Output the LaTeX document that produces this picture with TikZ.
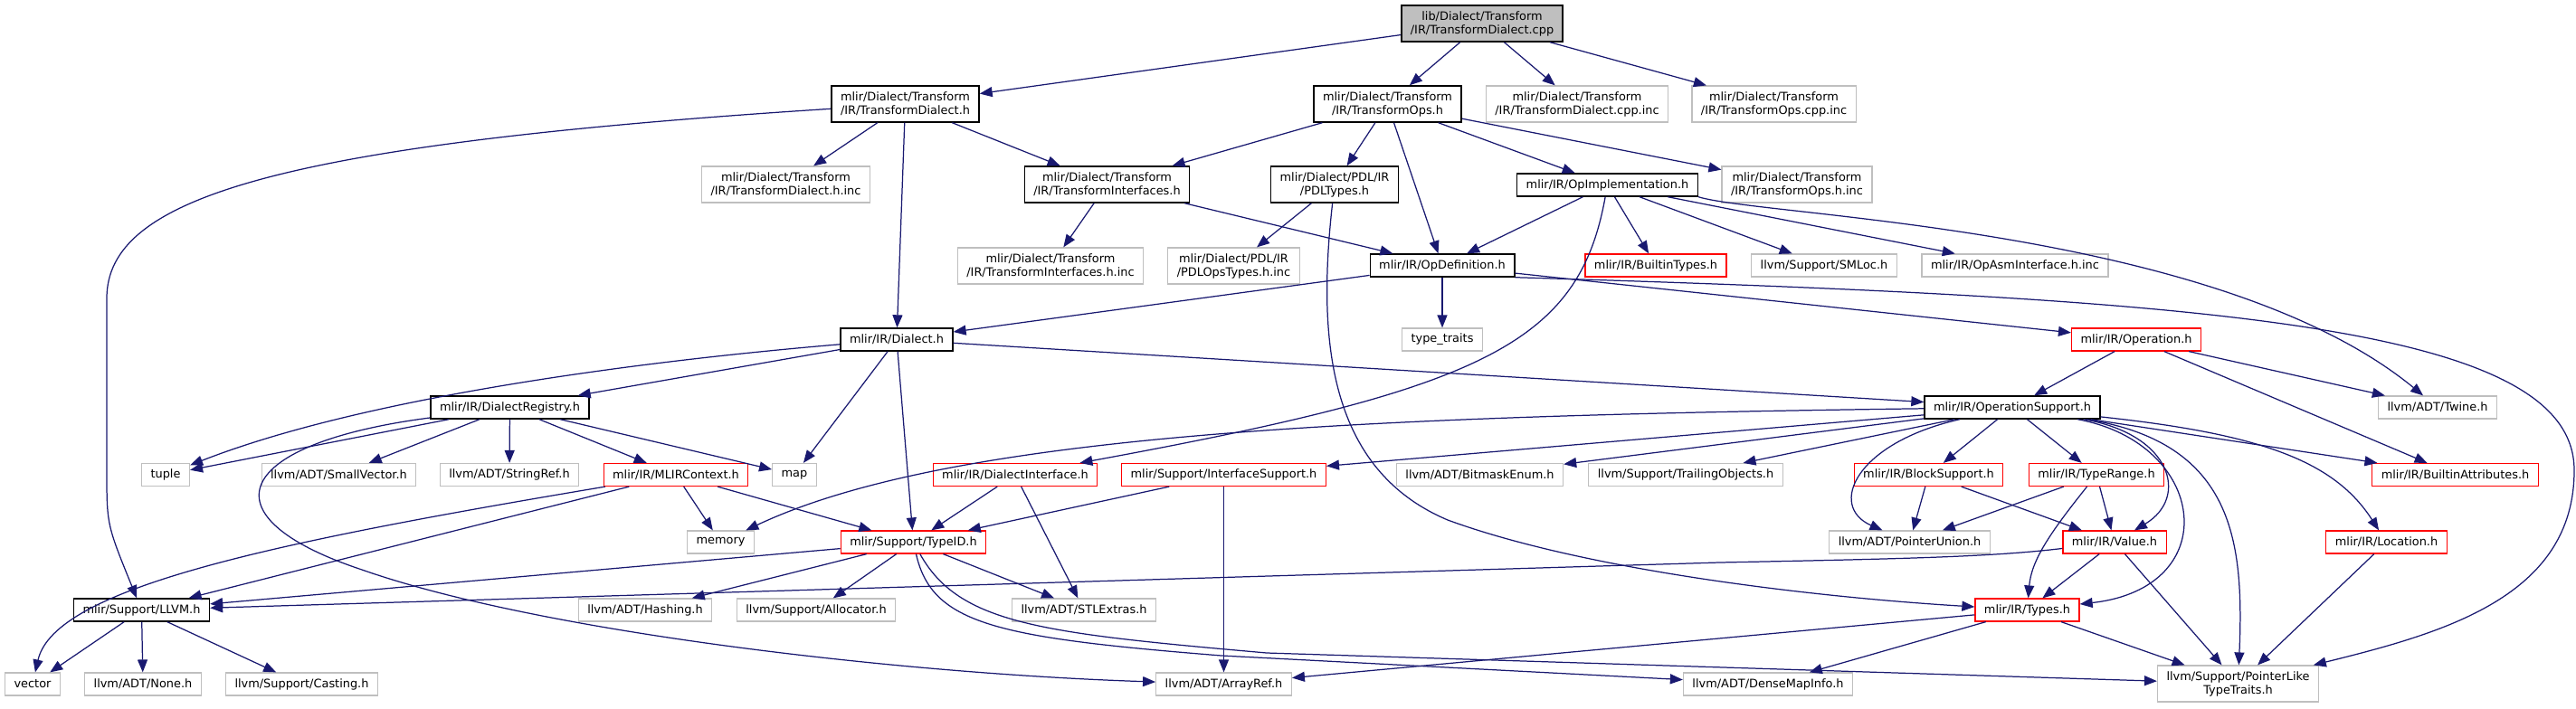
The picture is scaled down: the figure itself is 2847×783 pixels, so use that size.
\documentclass[tikz,border=0pt]{standalone}
\usepackage{fontspec}
\setmainfont{DejaVu Sans}
\usetikzlibrary{arrows.meta}
\definecolor{navy}{HTML}{191970}
\definecolor{boxgray}{HTML}{BFBFBF}
\tikzset{
	hdr/.style={draw=black, fill=white, rectangle, line width=0.7pt, inner xsep=5pt, inner ysep=1pt,
		minimum height=12.5pt, align=center, font=\fontsize{6.45}{7.5}\selectfont},
	sys/.style={hdr, draw=boxgray, line width=0.6pt},
	miss/.style={hdr, draw=red, line width=0.6pt},
	root/.style={hdr, fill=boxgray},
	two/.style={minimum height=20pt},
	incl/.style={draw=navy, line width=0.62pt, -{Triangle[length=7pt,width=5.5pt]}}
}
\begin{document}
\begin{tikzpicture}[x=0.5pt,y=-0.5pt]
\useasboundingbox (0,0) rectangle (2847,783);
% row 0 / 1
\node[root,two] (cpp) at (1638,26) {lib/Dialect/Transform\\/IR/TransformDialect.cpp};
\node[hdr,two] (tdh) at (1000.5,115) {mlir/Dialect/Transform\\/IR/TransformDialect.h};
\node[hdr,two] (toh) at (1533.5,115) {mlir/Dialect/Transform\\/IR/TransformOps.h};
\node[sys,two] (tdcppinc) at (1743,115) {mlir/Dialect/Transform\\/IR/TransformDialect.cpp.inc};
\node[sys,two] (tocppinc) at (1960.5,115) {mlir/Dialect/Transform\\/IR/TransformOps.cpp.inc};
% row 2
\node[sys,two] (tdhinc) at (868.5,204) {mlir/Dialect/Transform\\/IR/TransformDialect.h.inc};
\node[hdr,two] (tih) at (1223.5,204) {mlir/Dialect/Transform\\/IR/TransformInterfaces.h};
\node[hdr,two] (pdlt) at (1475,204) {mlir/Dialect/PDL/IR\\/PDLTypes.h};
\node[hdr] (opimpl) at (1776.5,204.5) {mlir/IR/OpImplementation.h};
\node[sys,two] (tohinc) at (1986,204) {mlir/Dialect/Transform\\/IR/TransformOps.h.inc};
% row 3
\node[sys,two] (tihinc) at (1161,294) {mlir/Dialect/Transform\\/IR/TransformInterfaces.h.inc};
\node[sys,two] (pdlotinc) at (1363.5,294) {mlir/Dialect/PDL/IR\\/PDLOpsTypes.h.inc};
\node[hdr] (opdef) at (1594,293.5) {mlir/IR/OpDefinition.h};
\node[miss] (btypes) at (1830,293.5) {mlir/IR/BuiltinTypes.h};
\node[sys] (smloc) at (2016,293.5) {llvm/Support/SMLoc.h};
\node[sys] (opasminc) at (2227,293.5) {mlir/IR/OpAsmInterface.h.inc};
% row 4
\node[hdr] (dialect) at (991,375.5) {mlir/IR/Dialect.h};
\node[sys] (typetraits) at (1594,375.5) {type\_traits};
\node[miss] (operation) at (2361,375.5) {mlir/IR/Operation.h};
% row 5
\node[hdr] (registry) at (563.5,450.5) {mlir/IR/DialectRegistry.h};
\node[hdr] (opsupport) at (2224,450.5) {mlir/IR/OperationSupport.h};
\node[sys] (twine) at (2694,450.5) {llvm/ADT/Twine.h};
% row 6
\node[sys] (tuple) at (183,525) {tuple};
\node[sys] (smallvec) at (374.5,525) {llvm/ADT/SmallVector.h};
\node[sys] (stringref) at (563,525) {llvm/ADT/StringRef.h};
\node[miss] (mlirctx) at (747,525) {mlir/IR/MLIRContext.h};
\node[sys] (map) at (878,525) {map};
\node[miss] (dialectiface) at (1122,525) {mlir/IR/DialectInterface.h};
\node[miss] (ifacesupport) at (1352.5,525) {mlir/Support/InterfaceSupport.h};
\node[sys] (bitmask) at (1635.5,525) {llvm/ADT/BitmaskEnum.h};
\node[sys] (trailing) at (1863,525) {llvm/Support/TrailingObjects.h};
\node[miss] (blocksupport) at (2131.5,525) {mlir/IR/BlockSupport.h};
\node[miss] (typerange) at (2317,525) {mlir/IR/TypeRange.h};
\node[miss] (battrs) at (2713.5,525) {mlir/IR/BuiltinAttributes.h};
% row 7
\node[sys] (memory) at (796.5,599.5) {memory};
\node[miss] (typeid) at (1009.5,599.5) {mlir/Support/TypeID.h};
\node[sys] (ptrunion) at (2110.5,599.5) {llvm/ADT/PointerUnion.h};
\node[miss] (value) at (2337,599.5) {mlir/IR/Value.h};
\node[miss] (location) at (2637.5,599.5) {mlir/IR/Location.h};
% row 8
\node[hdr] (llvmh) at (156.5,674.5) {mlir/Support/LLVM.h};
\node[sys] (hashing) at (713,674.5) {llvm/ADT/Hashing.h};
\node[sys] (allocator) at (902,674.5) {llvm/Support/Allocator.h};
\node[sys] (stlextras) at (1198,674.5) {llvm/ADT/STLExtras.h};
\node[miss] (types) at (2240.5,674.5) {mlir/IR/Types.h};
% row 9
\node[sys] (vector) at (36,756.5) {vector};
\node[sys] (none) at (158,756.5) {llvm/ADT/None.h};
\node[sys] (casting) at (333.5,756.5) {llvm/Support/Casting.h};
\node[sys] (arrayref) at (1352.5,756.5) {llvm/ADT/ArrayRef.h};
\node[sys] (densemap) at (1954,756.5) {llvm/ADT/DenseMapInfo.h};
\node[sys,two] (ptrlike) at (2473.5,756) {llvm/Support/PointerLike\\TypeTraits.h};

% straight includes
\foreach \a/\b in {cpp/tdh, cpp/toh, cpp/tdcppinc, cpp/tocppinc,
	tdh/tdhinc, tdh/tih, tdh/dialect,
	toh/tih, toh/pdlt, toh/opdef, toh/opimpl, toh/tohinc,
	tih/tihinc, tih/opdef, pdlt/pdlotinc,
	opimpl/opdef, opimpl/btypes, opimpl/smloc, opimpl/opasminc,
	opdef/dialect, opdef/typetraits, opdef/operation,
	dialect/registry, dialect/typeid, dialect/map, dialect/opsupport,
	operation/opsupport, operation/battrs, operation/twine,
	registry/tuple, registry/smallvec, registry/stringref, registry/mlirctx, registry/map,
	mlirctx/memory, mlirctx/llvmh, mlirctx/typeid,
	dialectiface/typeid, dialectiface/stlextras,
	ifacesupport/typeid, ifacesupport/arrayref,
	opsupport/ifacesupport, opsupport/bitmask, opsupport/trailing,
	opsupport/blocksupport, opsupport/typerange, opsupport/battrs,
	typeid/llvmh, typeid/hashing, typeid/allocator, typeid/stlextras,
	blocksupport/ptrunion, blocksupport/value,
	typerange/ptrunion, typerange/value,
	value/types, value/ptrlike, location/ptrlike,
	types/densemap, types/ptrlike, types/arrayref,
	llvmh/vector, llvmh/none, llvmh/casting} {
	\draw[incl] (\a) -- (\b);
}

% curved includes
\draw[incl] (tdh) .. controls (300,160) and (118,220) .. (118,330) -- (118,520) .. controls (118,580) .. (llvmh);
\draw[incl] (opimpl.south east) .. controls (1950,240) and (2450,250) .. (twine);
\draw[incl] (opimpl) .. controls (1745,380) and (1640,430) .. (dialectiface);
\draw[incl] (opdef.south east) .. controls (2450,330) and (2845,360) .. (2845,520) .. controls (2845,660) and (2700,700) .. (ptrlike);
\draw[incl] (pdlt) .. controls (1455,380) and (1470,520) .. (1600,575) .. controls (1750,630) and (2000,660) .. (types);
\draw[incl] (dialect) .. controls (700,400) and (400,440) .. (tuple);
\draw[incl] (registry) .. controls (260,490) and (220,570) .. (400,630) .. controls (600,700) and (1000,745) .. (arrayref);
\draw[incl] (mlirctx) .. controls (300,600) and (60,650) .. (vector);
\draw[incl] (opsupport) .. controls (1500,460) and (1050,480) .. (memory);
\draw[incl] (opsupport) .. controls (2050,490) and (2020,560) .. (ptrunion);
\draw[incl] (opsupport) .. controls (2400,480) and (2420,550) .. (value);
\draw[incl] (opsupport) .. controls (2440,490) and (2460,650) .. (types);
\draw[incl] (opsupport) .. controls (2470,490) and (2480,600) .. (ptrlike);
\draw[incl] (opsupport) .. controls (2500,480) and (2580,510) .. (location);
\draw[incl] (typeid) .. controls (1030,690) and (1100,705) .. (1350,725) -- (densemap);
\draw[incl] (typeid) .. controls (1060,690) and (1150,700) .. (1400,722) -- (ptrlike);
\draw[incl] (typerange) .. controls (2265,590) and (2245,620) .. (types);
\draw[incl] (value) .. controls (2200,616) and (2100,618) .. (1900,622) -- (llvmh);
\end{tikzpicture}
\end{document}
